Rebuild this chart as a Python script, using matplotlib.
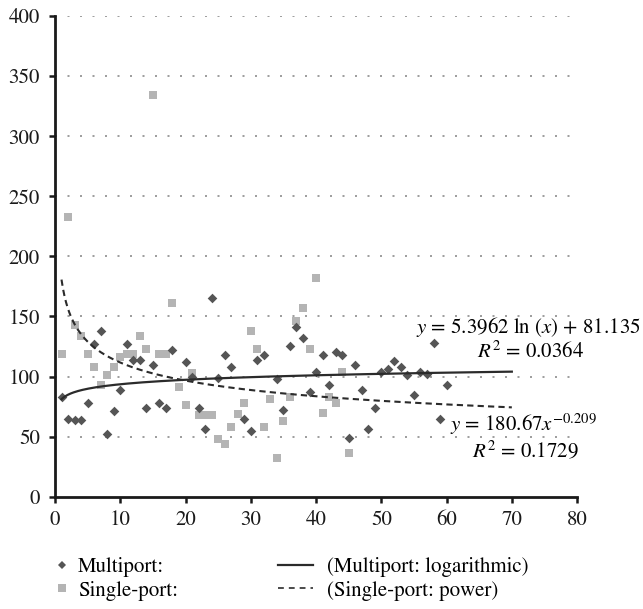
import matplotlib
matplotlib.use("Agg")
import matplotlib.pyplot as plt
from matplotlib.lines import Line2D
import numpy as np

# ---- data --------------------------------------------------------------------
multi_x = [1, 2, 3, 4, 5, 6, 7, 8, 9, 10, 11, 12, 13, 14, 15, 16, 17, 18, 20,
           21, 22, 23, 24, 25, 26, 27, 29, 30, 31, 32, 34, 35, 36, 37, 38, 39,
           40, 41, 42, 43, 44, 45, 46, 47, 48, 49, 50, 51, 52, 53, 54, 55, 56,
           57, 58, 59, 60]
multi_y = [83, 65, 64, 64, 78, 127, 138, 52, 71, 89, 127, 114, 114, 74, 110,
           78, 74, 122, 112, 100, 74, 56, 165, 99, 118, 108, 65, 55, 114, 118,
           98, 72, 125, 141, 132, 87, 104, 118, 93, 120, 118, 49, 110, 89, 56,
           74, 104, 106, 113, 108, 101, 85, 104, 102, 128, 65, 93]

single_x = [1, 2, 3, 4, 5, 6, 7, 8, 9, 10, 11, 12, 13, 14, 15, 16, 17, 18, 19,
            20, 21, 22, 23, 24, 25, 26, 27, 28, 29, 30, 31, 32, 33, 34, 35, 36,
            37, 38, 39, 40, 41, 42, 43, 44, 45]
single_y = [119, 233, 143, 134, 119, 108, 93, 101, 108, 116, 119, 119, 134,
            123, 334, 119, 119, 161, 91, 76, 103, 68, 68, 68, 48, 44, 58, 69,
            78, 138, 123, 58, 81, 32, 63, 83, 146, 157, 123, 182, 70, 83, 78,
            104, 36]

# fitted trend lines (coefficients as printed on the chart)
LOG_A, LOG_B = 5.3962, 81.135
POW_A, POW_B = 180.67, -0.209
FIT_RANGE = (1, 70)

Y_TICKS = [0, 50, 100, 150, 200, 250, 300, 350, 400]
X_TICKS = [0, 10, 20, 30, 40, 50, 60, 70, 80]

C_MULTI, C_SINGLE, C_LINE = "#555555", "#b4b4b4", "#2b2b2b"
FS = 15
SERIF = ["STIXGeneral", "DejaVu Serif"]

plt.rcParams["font.family"] = SERIF
plt.rcParams["mathtext.fontset"] = "stix"

fig = plt.figure(figsize=(6.43, 6.09), dpi=100)
ax = fig.add_axes([0.0855, 0.1844, 0.812, 0.7893])

for yv in Y_TICKS[1:]:
    ax.axhline(yv, color="#8c8c8c", lw=1.2, ls=(0, (1.2, 6.3)), zorder=0)

ax.scatter(multi_x, multi_y, marker="D", s=24, color=C_MULTI, lw=0, zorder=3)
ax.scatter(single_x, single_y, marker="s", s=40, color=C_SINGLE, lw=0, zorder=2)

xf = np.linspace(FIT_RANGE[0], FIT_RANGE[1], 300)
ax.plot(xf, LOG_A * np.log(xf) + LOG_B, color=C_LINE, lw=1.6, zorder=4)
ax.plot(xf, POW_A * xf ** POW_B, color=C_LINE, lw=1.5, ls=(0, (3, 2)), zorder=4)

ax.text(89.7, 136, r"$y$ = 5.3962 ln ($x$) + 81.135", ha="right", va="baseline",
        fontsize=FS, clip_on=False)
ax.text(72.8, 115.6, r"$R^2$ = 0.0364", ha="center", va="baseline",
        fontsize=FS, clip_on=False)
ax.text(60.5, 55, r"$y$ = 180.67$x^{-0.209}$", ha="left", va="baseline",
        fontsize=FS, clip_on=False)
ax.text(72.0, 32.5, r"$R^2$ = 0.1729", ha="center", va="baseline",
        fontsize=FS, clip_on=False)

ax.set_xlim(0, 80)
ax.set_ylim(0, 400)
ax.set_xticks(X_TICKS)
ax.set_yticks(Y_TICKS)
for s in ("top", "right"):
    ax.spines[s].set_visible(False)
for s in ("left", "bottom"):
    ax.spines[s].set_linewidth(2)
    ax.spines[s].set_color("#1a1a1a")
ax.tick_params(axis="both", direction="out", length=4, width=1.8,
               labelsize=FS, colors="#1a1a1a")
ax.tick_params(axis="y", pad=7)
ax.tick_params(axis="x", pad=6)

leg_font = {"family": SERIF, "size": FS}
h_pts = [Line2D([], [], ls="none", marker="D", ms=4.5, color=C_MULTI, mew=0),
         Line2D([], [], ls="none", marker="s", ms=6, color=C_SINGLE, mew=0)]
fig.legend(h_pts, ["Multiport:", "Single-port:"], loc="upper left",
           bbox_to_anchor=(0.0835, 0.0846), frameon=False, prop=leg_font,
           borderpad=0, borderaxespad=0,
           handlelength=0.8, handletextpad=0.37, labelspacing=0.15)
h_lines = [Line2D([], [], color=C_LINE, lw=1.6),
           Line2D([], [], color=C_LINE, lw=1.2, ls=(0, (3.5, 3)))]
fig.legend(h_lines, ["(Multiport: logarithmic)", "(Single-port: power)"],
           loc="upper left", bbox_to_anchor=(0.4323, 0.0846), frameon=False,
           prop=leg_font, borderpad=0, borderaxespad=0,
           handlelength=1.68, handletextpad=0.67, labelspacing=0.15)

fig.savefig("out.png", dpi=100)
